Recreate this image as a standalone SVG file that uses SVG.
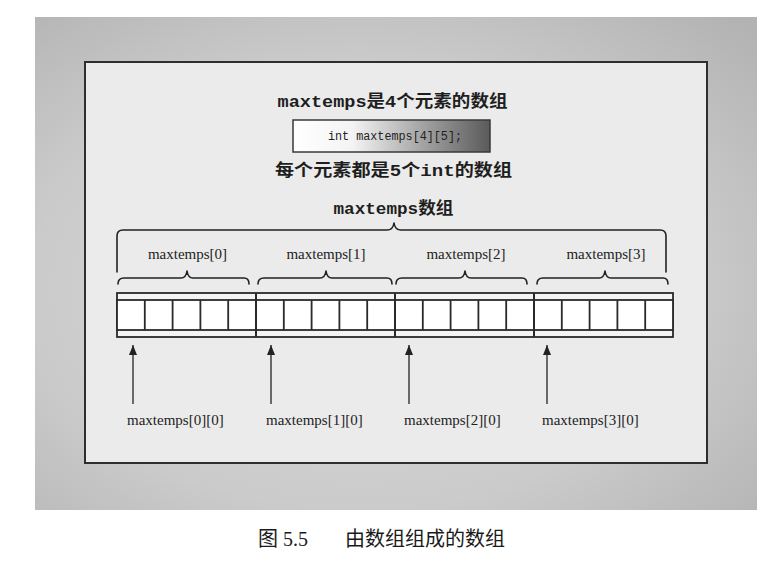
<svg xmlns="http://www.w3.org/2000/svg" width="779" height="573" viewBox="0 0 779 573">
  <defs>
    <radialGradient id="bgGrad" cx="0.45" cy="0.55" r="0.75">
      <stop offset="0" stop-color="#d9d9d9"/>
      <stop offset="0.6" stop-color="#cbcbcb"/>
      <stop offset="1" stop-color="#b3b3b3"/>
    </radialGradient>
    <linearGradient id="codeGrad" x1="0" y1="0" x2="1" y2="0">
      <stop offset="0" stop-color="#ffffff"/>
      <stop offset="0.3" stop-color="#f4f4f4"/>
      <stop offset="0.7" stop-color="#9a9a9a"/>
      <stop offset="1" stop-color="#5a5a5a"/>
    </linearGradient>
    <marker id="arrow" viewBox="0 0 10 8" refX="10" refY="4" markerWidth="10" markerHeight="8" markerUnits="userSpaceOnUse" orient="auto">
      <path d="M0,0 L10,4 L0,8 Z" fill="#222"/>
    </marker>
    <style>
      .title { font-family: "Liberation Mono", "Noto Sans CJK SC", monospace; font-weight: bold; fill: #1e1e1e; }
      .code { font-family: "Liberation Mono", "DejaVu Sans Mono", monospace; font-size: 12px; fill: #222; }
      .lbl { font-family: "Liberation Serif", "Times New Roman", serif; font-size: 15px; fill: #222; }
      .brace { fill: none; stroke: #222; stroke-width: 1.6; stroke-linejoin: round; stroke-linecap: round; }
      .cell { fill: #ffffff; stroke: #2a2a2a; stroke-width: 1.8; }
      .band { fill: #f4f4f4; stroke: #2a2a2a; stroke-width: 1.8; }
      .conn { stroke: #222; stroke-width: 1.3; fill: none; }
      .caption { font-family: "Liberation Serif", "Noto Sans CJK SC", serif; font-size: 20px; fill: #1a1a1a; }
    </style>
  </defs>

  <rect x="0" y="0" width="779" height="573" fill="#ffffff"/>
  <rect x="35" y="17" width="722" height="493" fill="url(#bgGrad)"/>

  <g id="panel">
    <rect x="85" y="62" width="622" height="401" fill="#ebebeb" stroke="#2e2e2e" stroke-width="2"/>
  </g>

  <g id="title1">
    <text class="title" x="392.5" y="107" font-size="16.5" text-anchor="middle" textLength="230" lengthAdjust="spacingAndGlyphs">maxtemps是4个元素的数组</text>
  </g>

  <g id="codebox">
    <rect x="293" y="120" width="197" height="32" fill="url(#codeGrad)" stroke="#3a3a3a" stroke-width="1.5"/>
    <text class="code" x="328" y="140" textLength="134" lengthAdjust="spacingAndGlyphs">int maxtemps[4][5];</text>
  </g>

  <g id="title2">
    <text class="title" x="393.5" y="176" font-size="16.5" text-anchor="middle" textLength="237" lengthAdjust="spacingAndGlyphs">每个元素都是5个int的数组</text>
  </g>

  <g id="title3">
    <text class="title" x="393.5" y="214" font-size="16.5" text-anchor="middle" textLength="120" lengthAdjust="spacingAndGlyphs">maxtemps数组</text>
  </g>

  <g id="bigBrace">
    <path class="brace" d="M117,272 L117,236 Q117,230 123,230 L387,230 Q393,230 394,223 Q395,230 401,230 L660,230 Q666,230 666,236 L666,272"/>
  </g>

  <g id="sub0">
    <path class="brace" d="M118,284 Q118,278 124,278 L181,278 Q186,278 187,271 Q188,278 193,278 L244,278 Q249,278 249,284"/>
    <text class="lbl" x="187.5" y="259" text-anchor="middle">maxtemps[0]</text>
  </g>
  <g id="sub1">
    <path class="brace" d="M258,284 Q258,278 264,278 L320,278 Q325,278 326,271 Q327,278 332,278 L387,278 Q392,278 392,284"/>
    <text class="lbl" x="326" y="259" text-anchor="middle">maxtemps[1]</text>
  </g>
  <g id="sub2">
    <path class="brace" d="M396,284 Q396,278 402,278 L459,278 Q464,278 465,271 Q466,278 471,278 L522,278 Q527,278 527,284"/>
    <text class="lbl" x="466" y="259" text-anchor="middle">maxtemps[2]</text>
  </g>
  <g id="sub3">
    <path class="brace" d="M537,284 Q537,278 543,278 L599,278 Q604,278 605,271 Q606,278 611,278 L663,278 Q668,278 668,284"/>
    <text class="lbl" x="606" y="259" text-anchor="middle">maxtemps[3]</text>
  </g>

  <g id="array">
    <rect class="band" x="117" y="293" width="556" height="44"/>
    <g id="cells">
      <rect class="cell" x="117" y="300" width="556" height="30"/>
      <path stroke="#2a2a2a" stroke-width="1.8" d="M144.8,300 V330 M172.6,300 V330 M200.4,300 V330 M228.2,300 V330 M283.8,300 V330 M311.6,300 V330 M339.4,300 V330 M367.2,300 V330 M422.8,300 V330 M450.6,300 V330 M478.4,300 V330 M506.2,300 V330 M561.8,300 V330 M589.6,300 V330 M617.4,300 V330 M645.2,300 V330"/>
      <path stroke="#2a2a2a" stroke-width="2" d="M256,293 V337 M395,293 V337 M534,293 V337"/>
    </g>
  </g>

  <g id="connectors">
    <line class="conn" x1="133" y1="404" x2="133" y2="345" marker-end="url(#arrow)"/>
    <line class="conn" x1="271" y1="404" x2="271" y2="345" marker-end="url(#arrow)"/>
    <line class="conn" x1="409" y1="404" x2="409" y2="345" marker-end="url(#arrow)"/>
    <line class="conn" x1="547" y1="404" x2="547" y2="345" marker-end="url(#arrow)"/>
  </g>

  <g id="ptr0"><text class="lbl" x="127" y="425">maxtemps[0][0]</text></g>
  <g id="ptr1"><text class="lbl" x="266" y="425">maxtemps[1][0]</text></g>
  <g id="ptr2"><text class="lbl" x="404" y="425">maxtemps[2][0]</text></g>
  <g id="ptr3"><text class="lbl" x="542" y="425">maxtemps[3][0]</text></g>

  <g id="caption">
    <text class="caption" x="258" y="546">图 5.5<tspan x="345">由数组组成的数组</tspan></text>
  </g>
</svg>
